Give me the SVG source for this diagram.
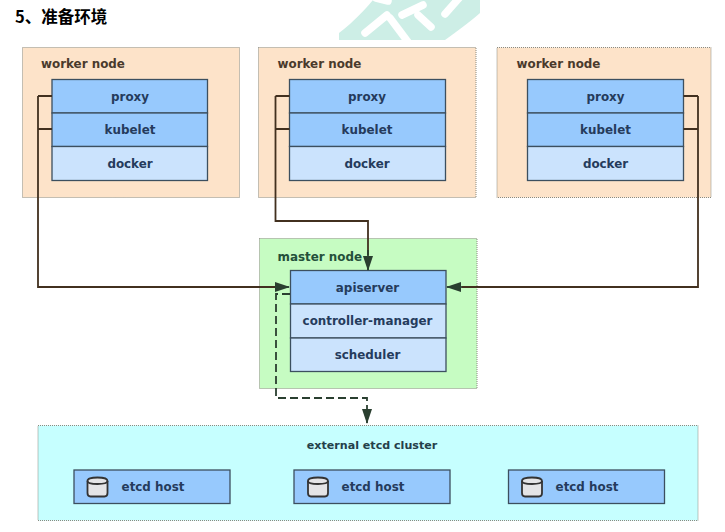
<svg xmlns="http://www.w3.org/2000/svg" width="725" height="532" viewBox="0 0 725 532">
<style>
text{font-family:"DejaVu Sans","Noto Sans CJK SC",sans-serif;font-weight:700;font-size:11.900px}
.c{text-anchor:middle;fill:#253b5c}
.o{stroke:#8a8a80;stroke-width:1;stroke-dasharray:1 1}
.w{fill:#fde3c9}.m{fill:#c6fcc2}.e{fill:#c6ffff}
.d{fill:#97c9fd;stroke:#3c4f5f;stroke-width:1.300}
.l{fill:#cbe3fd;stroke:#3c4f5f;stroke-width:1.300}
.wl{fill:#4a3a2c}.ml{fill:#24503a}.el{fill:#24404a}
.a{fill:none;stroke:#42301f;stroke-width:1.800}
.g{fill:none;stroke:#2a3f30;stroke-width:1.800}
.db{fill:#e4e4e6;stroke:#333;stroke-width:1.800}
.wm{fill:none;stroke:#fff;stroke-linecap:round;stroke-width:7.500}
</style>
<defs>
<marker id="ah" markerWidth="15" markerHeight="12" refX="14" refY="5" markerUnits="userSpaceOnUse" orient="auto"><path d="M0 0L15 5L0 10z" fill="#2a3f30"/></marker>
<g id="cyl"><path class="db" d="M-10 -6V6Q-10 9.500 -7 9.500H7Q10 9.500 10 6V-6Q10 -9.500 0 -9.500T-10 -6Z"/><path class="db" d="M-10 -6Q-10 -3 0 -3T10 -6" style="fill:none"/></g>
<clipPath id="wc"><rect x="330" y="0" width="160" height="40"/></clipPath>
</defs>
<rect width="725" height="532" fill="#fff"/>
<g clip-path="url(#wc)">
<path d="M339 40V33Q343 30 350 24Q365 10 373 0H480V13Q470 22 445 40Z" fill="#cdeee6"/>
<path class="wm" d="M387 15L365 33M376 -2L388 1M390 18L408 42M423 5L402 15M418 15L431 27M460 -3L445 14M412 -4H432"/>
</g>
<text x="15" y="23" style="font-size:16.500px;fill:#000;font-family:'Noto Sans CJK SC',sans-serif">5、准备环境</text>

<g id="worker1"><rect class="w o" x="22.500" y="47.500" width="217" height="150"/><text class="wl" x="41" y="68">worker node</text>
<rect class="d" x="52" y="79.500" width="155.500" height="33.500"/><text class="c" x="130" y="100.500">proxy</text>
<rect class="d" x="52" y="113" width="155.500" height="33.500"/><text class="c" x="130" y="134">kubelet</text>
<rect class="l" x="52" y="146.500" width="155.500" height="34"/><text class="c" x="130" y="167.500">docker</text></g>

<g id="worker2"><rect class="w o" x="258.500" y="47.500" width="217.500" height="150"/><text class="wl" x="277.500" y="68">worker node</text>
<rect class="d" x="289.500" y="79.500" width="156" height="33.500"/><text class="c" x="367" y="100.500">proxy</text>
<rect class="d" x="289.500" y="113" width="156" height="33.500"/><text class="c" x="367" y="134">kubelet</text>
<rect class="l" x="289.500" y="146.500" width="156" height="34"/><text class="c" x="367" y="167.500">docker</text></g>

<g id="worker3"><rect class="w o" x="497" y="47.500" width="214" height="150"/><text class="wl" x="516.500" y="68">worker node</text>
<rect class="d" x="527.500" y="79.500" width="156" height="33.500"/><text class="c" x="605.500" y="100.500">proxy</text>
<rect class="d" x="527.500" y="113" width="156" height="33.500"/><text class="c" x="605.500" y="134">kubelet</text>
<rect class="l" x="527.500" y="146.500" width="156" height="34"/><text class="c" x="605.500" y="167.500">docker</text></g>

<g id="master"><rect class="m o" x="259.500" y="238.500" width="217.500" height="150"/><text class="ml" x="277.500" y="260.500">master node</text>
<rect class="d" x="290.500" y="270.500" width="155.500" height="33.500"/><text class="c" x="367.500" y="291.500">apiserver</text>
<rect class="l" x="290.500" y="304" width="155.500" height="34"/><text class="c" x="367.500" y="325">controller-manager</text>
<rect class="l" x="290.500" y="338" width="155.500" height="33.500"/><text class="c" x="367.500" y="358.500">scheduler</text></g>

<g id="etcd"><rect class="e o" x="38" y="425.500" width="660" height="95"/><text class="el" x="372" y="448.500" text-anchor="middle" style="font-size:11.100px">external etcd cluster</text>
<g id="etcd1"><rect class="d" x="74" y="470" width="156" height="33.500"/><use href="#cyl" x="97.500" y="487"/><text class="c" x="153" y="490.500">etcd host</text></g>
<g id="etcd2"><rect class="d" x="294" y="470" width="156" height="33.500"/><use href="#cyl" x="318" y="487"/><text class="c" x="373" y="490.500">etcd host</text></g>
<g id="etcd3"><rect class="d" x="508.500" y="470" width="156" height="33.500"/><use href="#cyl" x="532" y="487"/><text class="c" x="587" y="490.500">etcd host</text></g></g>

<g id="connectors">
<path class="a" d="M52 96H38M52 129H38"/>
<path class="a" d="M38 96V287H275"/>
<path class="g" d="M275 287H289" marker-end="url(#ah)"/>
<path class="a" d="M289.500 96H275.500M289.500 129H275.500"/>
<path class="a" d="M275.500 96V221H368V255"/>
<path class="g" d="M368 250V270" marker-end="url(#ah)"/>
<path class="a" d="M683.500 96H698M683.500 129H698"/>
<path class="a" d="M698 96V287H462"/>
<path class="g" d="M462 287H447" marker-end="url(#ah)"/>
<path class="g" d="M290 294H276V398H367V423" stroke-dasharray="8 4" marker-end="url(#ah)"/>
</g>
</svg>
